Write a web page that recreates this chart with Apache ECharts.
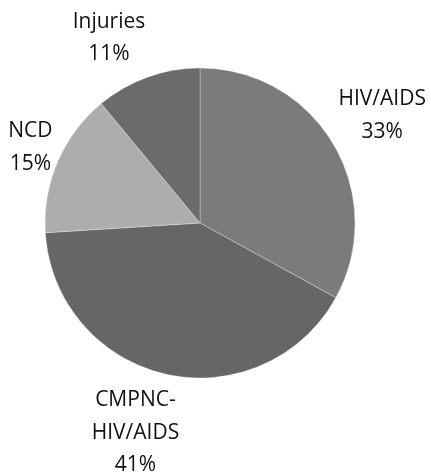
<!DOCTYPE html>
<html>
<head>
<meta charset="utf-8">
<script src="https://cdn.jsdelivr.net/npm/echarts@6/dist/echarts.min.js"></script>
<style>
  html, body { margin: 0; padding: 0; background: #fff; }
  #chart { width: 431px; height: 472px; }
</style>
</head>
<body>
<div id="chart"></div>
<script>
const categories = ['HIV/AIDS', 'CMPNC-\nHIV/AIDS', 'NCD', 'Injuries'];
const values = [33, 41, 15, 11];
const colors = ['#7c7b79', '#666666', '#adadad', '#6b6b6b'];
// small hand nudges so labels sit where Excel's "best fit" put them
const labelNudge = [[-3, 2], [-17, -3], [9, 2], [-22, 7]];

const cx = 200, cy = 223, r = 155;
const total = values.reduce((a, b) => a + b, 0);

// mid angle of each slice, clockwise from 12 o'clock
const midAngles = [];
let acc = 0;
values.forEach(v => {
  midAngles.push((acc + v / 2) / total * Math.PI * 2);
  acc += v;
});

const chart = echarts.init(document.getElementById('chart'));
chart.setOption({
  animation: false,
  series: [{
    type: 'pie',
    center: [cx, cy],
    radius: r,
    startAngle: 90,
    clockwise: true,
    data: categories.map((name, i) => ({ name, value: values[i], itemStyle: { color: colors[i] } })),
    itemStyle: { borderColor: 'rgba(255,255,255,0.5)', borderWidth: 0.6 },
    label: {
      show: true,
      position: 'outside',
      formatter: p => p.name + '\n' + p.percent.toFixed(0) + '%',
      fontFamily: 'Open Sans',
      fontSize: 21,
      lineHeight: 32.5,
      color: '#111',
      align: 'center',
      overflow: 'none',
      edgeDistance: 0
    },
    labelLine: { show: false },
    labelLayout: params => {
      const i = params.dataIndex;
      const a = midAngles[i];
      const dx = Math.sin(a), dy = -Math.cos(a);
      const w = params.labelRect.width, h = params.labelRect.height;
      const d = r + 6 + Math.abs(dx) * w / 2 + Math.abs(dy) * h / 2;
      return {
        x: cx + dx * d + labelNudge[i][0],
        y: cy + dy * d + labelNudge[i][1],
        align: 'center', verticalAlign: 'middle', hideOverlap: false
      };
    },
    emphasis: { disabled: true }
  }]
});
</script>
</body>
</html>
